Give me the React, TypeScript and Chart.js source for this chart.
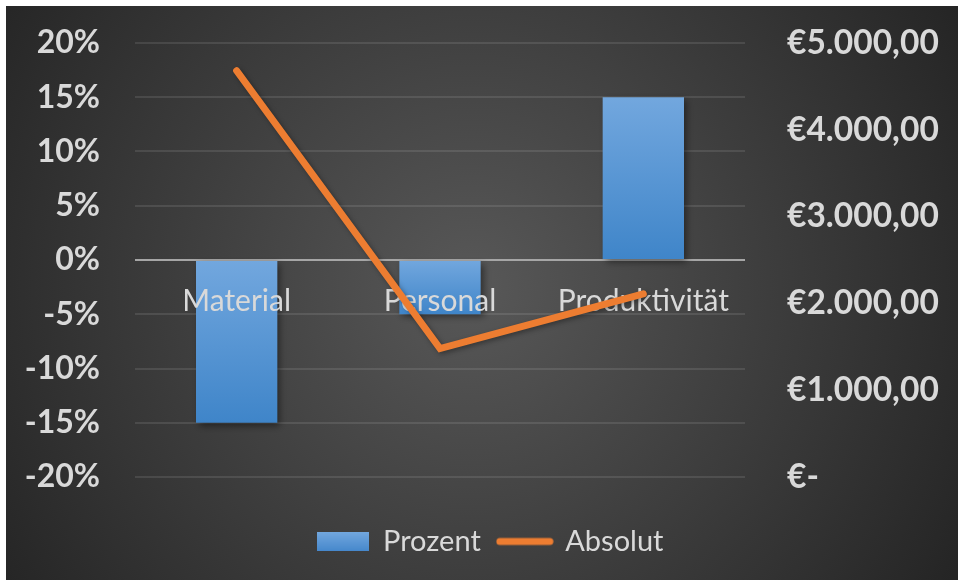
import React, { useEffect, useRef } from 'react';
import { Chart, registerables } from 'chart.js';

Chart.register(...registerables);

const categories = ['Material', 'Personal', 'Produktivität'];
const prozentValues = [-0.15, -0.05, 0.15];
const absolutValues = [4680, 1480, 2110];
const percentMin = -0.2;
const percentMax = 0.2;
const percentStep = 0.05;
const euroMin = 0;
const euroMax = 5000;
const euroStep = 1000;

const FONT = 'Lato';
const TEXT = '#d9d9d9';
const ORANGE = '#ED7D31';

function formatPercent(v: number): string {
  return Math.round(v * 100) + '%';
}

function formatEuro(v: number): string {
  if (Math.round(v) === 0) return '€-';
  const int = Math.round(v).toString().replace(/\B(?=(\d{3})+(?!\d))/g, '.');
  return '€' + int + ',00';
}

function makeBarSwatch(): HTMLCanvasElement {
  const c = document.createElement('canvas');
  c.width = 52;
  c.height = 19;
  const x = c.getContext('2d')!;
  const g = x.createLinearGradient(0, 0, 0, 19);
  g.addColorStop(0, '#72a7de');
  g.addColorStop(1, '#4688cc');
  x.fillStyle = g;
  x.fillRect(0, 0, 52, 19);
  return c;
}

function makeLineSwatch(): HTMLCanvasElement {
  const c = document.createElement('canvas');
  c.width = 58;
  c.height = 10;
  const x = c.getContext('2d')!;
  x.strokeStyle = ORANGE;
  x.lineWidth = 7;
  x.lineCap = 'round';
  x.beginPath();
  x.moveTo(4, 5);
  x.lineTo(54, 5);
  x.stroke();
  return c;
}

const backgroundPlugin = {
  id: 'bgRadial',
  beforeDraw(chart: any) {
    const { ctx, width, height } = chart;
    ctx.save();
    const g = ctx.createRadialGradient(width * 0.49, height * 0.49, 0, width * 0.49, height * 0.49, 560);
    g.addColorStop(0, '#585858');
    g.addColorStop(1, '#252525');
    ctx.fillStyle = g;
    ctx.fillRect(0, 0, width, height);
    ctx.restore();
  },
};

const shadowPlugin = {
  id: 'dsShadow',
  beforeDatasetDraw(chart: any, args: any) {
    if (args.meta.type === 'line') return false;
    const ctx = chart.ctx;
    ctx.save();
    ctx.shadowColor = 'rgba(0,0,0,0.45)';
    ctx.shadowBlur = 7;
    ctx.shadowOffsetX = 3;
    ctx.shadowOffsetY = 3;
  },
  afterDatasetDraw(chart: any, args: any) {
    if (args.meta.type === 'line') return;
    chart.ctx.restore();
  },
  afterDraw(chart: any) {
    const ctx = chart.ctx;
    chart.data.datasets.forEach((_: any, i: number) => {
      const meta = chart.getDatasetMeta(i);
      if (meta.type !== 'line') return;
      ctx.save();
      ctx.shadowColor = 'rgba(0,0,0,0.35)';
      ctx.shadowBlur = 5;
      ctx.shadowOffsetX = 2;
      ctx.shadowOffsetY = 2;
      meta.controller.draw();
      ctx.restore();
    });
  },
};

export default function App() {
  const ref = useRef<HTMLCanvasElement | null>(null);

  useEffect(() => {
    if (!ref.current) return;
    const barSwatch = makeBarSwatch();
    const lineSwatch = makeLineSwatch();
    const chart = new Chart(ref.current, {
      type: 'bar',
      data: {
        labels: categories,
        datasets: [
          {
            type: 'bar',
            label: 'Prozent',
            data: prozentValues,
            yAxisID: 'y',
            order: 1,
            barPercentage: 0.8,
            categoryPercentage: 0.5,
            borderWidth: 0,
            backgroundColor: (c: any) => {
              const chart = c.chart;
              const ys = chart.scales && chart.scales.y;
              if (!ys || c.type !== 'data' || !chart.chartArea) return '#5b9bd5';
              const y0 = ys.getPixelForValue(0);
              const y1 = ys.getPixelForValue(c.raw);
              const top = Math.min(y0, y1);
              const bot = Math.max(y0, y1);
              const g = chart.ctx.createLinearGradient(0, top, 0, bot + 0.01);
              g.addColorStop(0, '#72a7de');
              g.addColorStop(1, '#3f85c9');
              return g;
            },
          },
          {
            type: 'line',
            label: 'Absolut',
            data: absolutValues,
            yAxisID: 'y1',
            order: 0,
            borderColor: ORANGE,
            backgroundColor: ORANGE,
            borderWidth: 7,
            borderCapStyle: 'round',
            borderJoinStyle: 'miter',
            pointRadius: 0,
            pointHoverRadius: 0,
            tension: 0,
            fill: false,
          },
        ],
      },
      options: {
        animation: false,
        responsive: true,
        maintainAspectRatio: false,
        layout: { padding: { left: 16, right: 0, top: 37, bottom: 14 } },
        scales: {
          x: {
            position: { y: 0 } as any,
            offset: true,
            grid: { display: false, drawTicks: false },
            border: { display: false },
            ticks: {
              z: 1,
              color: TEXT,
              font: { family: FONT, size: 30 },
              padding: 23,
              autoSkip: false,
              maxRotation: 0,
            },
            afterFit: (s: any) => {
              s.height = 0;
            },
          },
          y: {
            position: 'left',
            min: percentMin,
            max: percentMax,
            grid: {
              drawTicks: true,
              tickLength: 35,
              tickColor: 'transparent',
              color: (c: any) => (c.tick && Math.abs(c.tick.value) < 1e-9 ? '#a6a6a6' : 'rgba(255,255,255,0.10)'),
              lineWidth: 2,
            },
            border: { display: false },
            ticks: {
              stepSize: percentStep,
              color: TEXT,
              font: { family: FONT, size: 32, weight: 'bold' },
              padding: 0,
              callback: (v: any) => formatPercent(Number(v)),
            },
            afterFit: (s: any) => {
              s.width = 113;
            },
          },
          y1: {
            position: 'right',
            min: euroMin,
            max: euroMax,
            grid: {
              display: true,
              drawOnChartArea: false,
              drawTicks: true,
              tickLength: 42,
              tickColor: 'transparent',
              color: 'transparent',
            },
            border: { display: false },
            ticks: {
              stepSize: euroStep,
              color: TEXT,
              font: { family: FONT, size: 33.5, weight: 'bold' },
              padding: 0,
              callback: (v: any) => formatEuro(Number(v)),
            },
            afterFit: (s: any) => {
              s.width = 213;
            },
          },
        },
        plugins: {
          tooltip: { enabled: false },
          legend: {
            display: true,
            position: 'bottom',
            title: { display: true, text: ' ', font: { size: 10 }, padding: 10 },
            labels: {
              color: TEXT,
              font: { family: FONT, size: 29 },
              usePointStyle: true,
              pointStyleWidth: 52,
              boxHeight: 19,
              padding: 18,
              generateLabels: (ch: any) => {
                const items = Chart.defaults.plugins.legend.labels.generateLabels(ch);
                items.sort((a: any, b: any) => a.datasetIndex - b.datasetIndex);
                items.forEach((it: any) => {
                  it.pointStyle = it.datasetIndex === 0 ? barSwatch : lineSwatch;
                  it.lineWidth = 0;
                  it.fontColor = TEXT;
                });
                return items;
              },
            },
          },
        },
      },
      plugins: [backgroundPlugin, shadowPlugin],
    } as any);
    return () => chart.destroy();
  }, []);

  return (
    <div style={{ position: 'fixed', left: 6, top: 6, width: 952, height: 574 }}>
      <canvas ref={ref} />
    </div>
  );
}
